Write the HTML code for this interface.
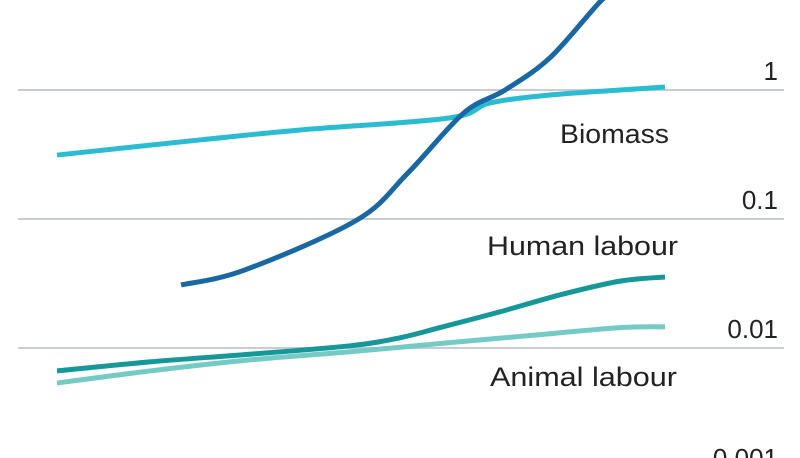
<!DOCTYPE html>
<html><head><meta charset="utf-8"><style>
html,body{margin:0;padding:0;background:#fff;width:800px;height:458px;overflow:hidden}
text{font-family:"Liberation Sans Narrow","Liberation Sans",sans-serif;fill:#222}
</style></head><body>
<svg id="chart" width="800" height="458" viewBox="0 0 800 458" xmlns="http://www.w3.org/2000/svg"></svg>
<script>
const tickValues=[1,0.1,0.01,0.001];
const tickLabels=["1","0.1","0.01","0.001"];
const fossilT=[20.4,30.9,49.3,57.7,66.9,73.7,81.2,89.6,92.6];
const fossilV=[0.0308,0.0403,0.098,0.227,0.663,1.0,1.8,4.98,5.95];
const biomassT=[0,23.5,40,64.5,71.2,81.1,92.6,100];
const biomassV=[0.313,0.41,0.49,0.607,0.793,0.915,1.0,1.055];
const humanT=[0,15.3,31.7,48.2,56.4,63,72.9,82.7,92.6,100];
const humanV=[0.00664,0.00781,0.00895,0.0104,0.012,0.0144,0.0191,0.0258,0.033,0.0355];
const animalT=[0,15.3,31.7,48.2,64.6,81.1,92.6,100];
const animalV=[0.00535,0.00664,0.00809,0.00935,0.011,0.0129,0.0144,0.0146];
const NS="http://www.w3.org/2000/svg";
const svg=document.getElementById('chart');
const xS=t=>57+t*6.08;
const yS=v=>90-129*Math.log10(v);
function el(tag,attrs){const e=document.createElementNS(NS,tag);for(const k in attrs)e.setAttribute(k,attrs[k]);svg.appendChild(e);return e;}
tickValues.forEach((v,i)=>{
  const y=yS(v);
  const g=el('line',{x1:18,x2:784,y1:y,y2:y,stroke:'#c9cdd2','stroke-width':2});
  
  
  const t=el('text',{x:778,y:y-10,'text-anchor':'end','font-size':26});
  t.textContent=tickLabels[i];
  
  
});
function path(T,V){
  const p=T.map((t,i)=>[xS(t),yS(V[i])]);
  let d='M'+p[0][0]+','+p[0][1];
  for(let i=0;i<p.length-1;i++){
    const p0=p[i-1]||p[i],p1=p[i],p2=p[i+1],p3=p[i+2]||p2;
    const c1=[p1[0]+(p2[0]-p0[0])/6,p1[1]+(p2[1]-p0[1])/6];
    const c2=[p2[0]-(p3[0]-p1[0])/6,p2[1]-(p3[1]-p1[1])/6];
    d+=' C'+c1+' '+c2+' '+p2;
  }
  return d;
}
function line(T,V,color,name){
  const l=el('path',{d:path(T,V),fill:'none',stroke:color,'stroke-width':5,'stroke-linecap':'butt'});
  
  
}
line(animalT,animalV,'#74cbc5','animal-labour-line');
line(humanT,humanV,'#16989a','human-labour-line');
line(biomassT,biomassV,'#2cbcd2','biomass-line');
line(fossilT,fossilV,'#1a68a3','fossil-fuel-line');
function label(txt,x,y,w,name){
  const t=el('text',{x:x,y:y,'font-size':27,textLength:w,lengthAdjust:'spacingAndGlyphs'});
  t.textContent=txt;
  
  
}
label('Biomass',560,143,109,'biomass-label');
label('Human labour',487,255,191,'human-labour-label');
label('Animal labour',490,386,187,'animal-labour-label');
</script>
</body></html>
